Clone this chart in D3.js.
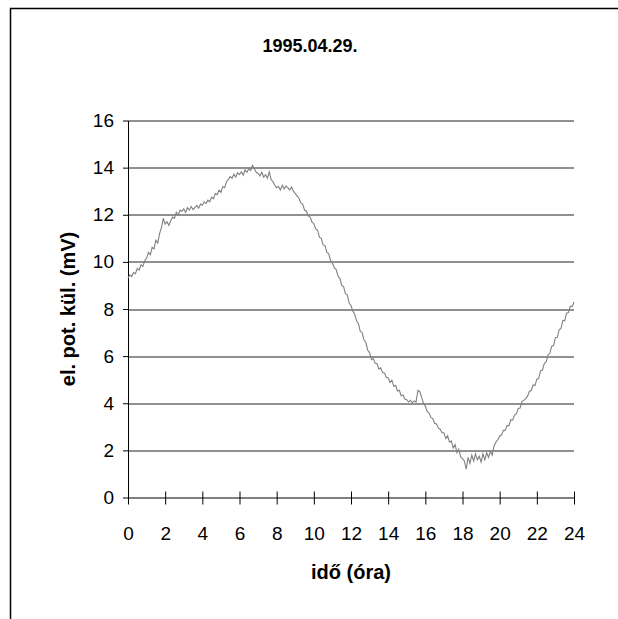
<!DOCTYPE html>
<html>
<head>
<meta charset="utf-8">
<script src="https://cdn.jsdelivr.net/npm/d3@7"></script>
<style>
    body { margin: 0; background: #fff; }
    svg { display: block; font-family: 'Liberation Sans', Arial, sans-serif; }
</style>
</head>
<body>
<div id="chart"></div>
<script>
// readings every 6 minutes (0.1 h), 00:00 .. 24:00
let hours = d3.range(0, 241).map(i => i / 10)
let potential = [
    9.30, 9.45, 9.38, 9.55, 9.50, 9.72, 9.65, 9.88, 9.80, 10.05,
    10.15, 10.40, 10.30, 10.62, 10.55, 10.92, 10.80, 11.20, 11.45, 11.85,
    11.60, 11.70, 11.55, 11.75, 11.90, 11.85, 12.10, 11.98, 12.20, 12.15,
    12.25, 12.10, 12.30, 12.20, 12.35, 12.22, 12.30, 12.40, 12.28, 12.45,
    12.40, 12.55, 12.48, 12.62, 12.55, 12.75, 12.68, 12.90, 12.85, 13.05,
    12.95, 13.20, 13.15, 13.40, 13.50, 13.62, 13.55, 13.72, 13.60, 13.78,
    13.70, 13.82, 13.68, 13.90, 13.80, 13.95, 13.88, 14.10, 13.95, 13.80,
    13.75, 13.65, 13.80, 13.60, 13.70, 13.55, 13.82, 13.50, 13.40, 13.25,
    13.15, 13.20, 13.05, 13.25, 13.10, 13.22, 13.15, 13.05, 13.18, 13.00,
    12.90, 12.80, 12.70, 12.50, 12.45, 12.20, 12.15, 11.95, 11.90, 11.70,
    11.62, 11.40, 11.35, 11.05, 11.00, 10.72, 10.70, 10.40, 10.35, 10.05,
    9.95, 9.75, 9.68, 9.40, 9.30, 9.00, 8.95, 8.65, 8.60, 8.25,
    8.15, 7.90, 7.78, 7.50, 7.38, 7.05, 7.00, 6.68, 6.58, 6.25,
    6.15, 5.85, 5.90, 5.70, 5.68, 5.45, 5.50, 5.30, 5.28, 5.10,
    5.08, 4.88, 4.98, 4.72, 4.75, 4.52, 4.55, 4.32, 4.35, 4.18,
    4.15, 4.05, 4.12, 4.02, 4.10, 4.05, 4.55, 4.50, 4.25, 4.00,
    3.88, 3.65, 3.58, 3.40, 3.35, 3.15, 3.12, 2.95, 2.90, 2.75,
    2.75, 2.50, 2.62, 2.35, 2.40, 2.10, 2.25, 1.90, 2.05, 1.72,
    1.65, 1.55, 1.20, 1.70, 1.45, 1.80, 1.55, 1.85, 1.60, 1.75,
    1.50, 1.85, 1.60, 1.90, 1.70, 1.95, 1.80, 2.20, 2.35, 2.45,
    2.60, 2.65, 2.85, 2.85, 3.05, 3.05, 3.30, 3.28, 3.50, 3.55,
    3.78, 3.80, 4.08, 4.12, 4.20, 4.30, 4.50, 4.55, 4.78, 4.75,
    5.02, 5.05, 5.38, 5.40, 5.68, 5.75, 6.05, 6.12, 6.42, 6.45,
    6.78, 6.80, 7.12, 7.18, 7.52, 7.50, 7.82, 7.85, 8.12, 8.10,
    8.30
]
let xTicks = [0, 2, 4, 6, 8, 10, 12, 14, 16, 18, 20, 22, 24]
let yTicks = [0, 2, 4, 6, 8, 10, 12, 14, 16]
let title = '1995.04.29.'
let xTitle = 'idő (óra)'
let yTitle = 'el. pot. kül. (mV)'

let svgWidth = 618,
    svgHeight = 619,
    margin = { top: 120.5, right: 44, bottom: 121.5, left: 128 },
    chartWidth = svgWidth - margin.left - margin.right,
    chartHeight = svgHeight - margin.top - margin.bottom

let svg = d3.select('#chart')
    .append('svg')
    .attr('width', svgWidth)
    .attr('height', svgHeight)

// outer frame (only top and left edges show in the picture)
svg.append('path')
    .attr('d', `M10.5,${svgHeight} V8.5 H${svgWidth}`)
    .attr('fill', 'none')
    .attr('stroke', '#000')
    .attr('stroke-width', 1.5)

svg.append('text')
    .attr('x', 310)
    .attr('y', 52)
    .attr('text-anchor', 'middle')
    .attr('font-size', '18px')
    .attr('font-weight', 'bold')
    .text(title)

let x = d3.scaleLinear().domain([0, 24]).range([0, chartWidth])
let y = d3.scaleLinear().domain([0, 16]).range([chartHeight, 0])

let g = svg.append('g')
    .attr('transform', `translate(${margin.left},${margin.top})`)

// horizontal gridlines
g.append('g')
    .selectAll('line')
    .data(yTicks.filter(d => d > 0))
    .enter().append('line')
    .attr('x1', 0)
    .attr('x2', chartWidth)
    .attr('y1', d => Math.round(y(d)) + 0.5)
    .attr('y2', d => Math.round(y(d)) + 0.5)
    .attr('stroke', '#222')

// y axis
let yAxis = g.append('g')
    .call(d3.axisLeft(y).tickValues(yTicks).tickSize(5).tickPadding(9).tickSizeOuter(0))
yAxis.selectAll('text').attr('font-size', '19px').attr('fill', '#000').attr('font-family', 'inherit')
yAxis.selectAll('line, path').attr('stroke', '#000')

// x axis with ticks crossing the line
let xAxis = g.append('g')
    .attr('transform', `translate(0,${chartHeight})`)
    .call(d3.axisBottom(x).tickValues(xTicks).tickSizeOuter(0))
xAxis.selectAll('.tick line').attr('y1', -6).attr('y2', 7).attr('stroke', '#000')
xAxis.select('.domain').attr('stroke', '#000')
xAxis.selectAll('text')
    .attr('y', 42)
    .attr('dy', 0)
    .attr('font-size', '19px')
    .attr('fill', '#000')
    .attr('font-family', 'inherit')

// measurement line
let line = d3.line()
    .x((d, i) => x(hours[i]))
    .y(d => y(d))

g.append('path')
    .datum(potential)
    .attr('d', line)
    .attr('fill', 'none')
    .attr('stroke', '#808080')
    .attr('stroke-width', 1.1)

// axis titles
svg.append('text')
    .attr('x', margin.left + chartWidth / 2)
    .attr('y', 579)
    .attr('text-anchor', 'middle')
    .attr('font-size', '20px')
    .attr('font-weight', 'bold')
    .text(xTitle)

svg.append('text')
    .attr('transform', `translate(75,${margin.top + chartHeight / 2}) rotate(-90)`)
    .attr('text-anchor', 'middle')
    .attr('font-size', '20px')
    .attr('font-weight', 'bold')
    .text(yTitle)
</script>
</body>
</html>
